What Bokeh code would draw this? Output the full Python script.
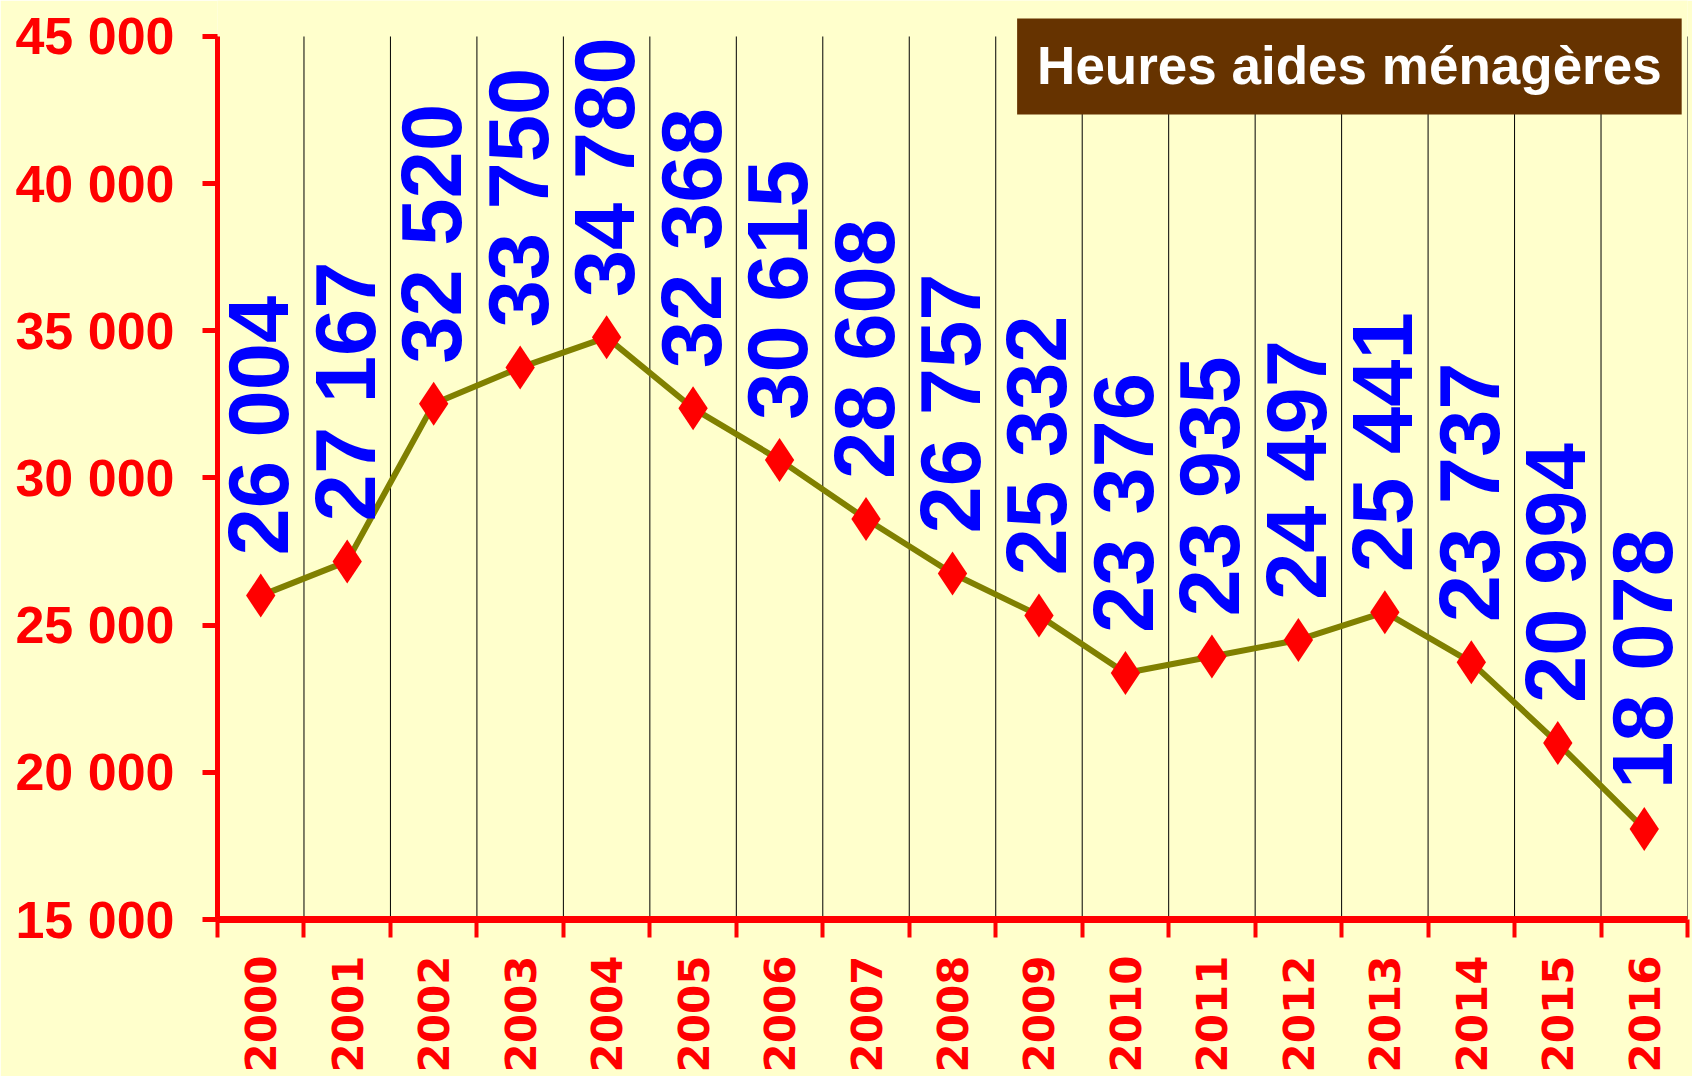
import math
from bokeh.plotting import figure
from bokeh.models import FixedTicker, Label, Range1d, ColumnDataSource
from bokeh.core.properties import value
from bokeh.embed import file_html
from bokeh.resources import INLINE

years = ["2000", "2001", "2002", "2003", "2004", "2005", "2006", "2007", "2008",
         "2009", "2010", "2011", "2012", "2013", "2014", "2015", "2016"]
hours = [26004, 27167, 32520, 33750, 34780, 32368, 30615, 28608, 26757,
         25332, 23376, 23935, 24497, 25441, 23737, 20994, 18078]
y_ticks = [15000, 20000, 25000, 30000, 35000, 40000, 45000]
y_tick_labels = ["15 000", "20 000", "25 000", "30 000", "35 000", "40 000", "45 000"]
title_text = "Heures aides ménagères"

BG = "#FFFFCC"
RED = "#FF0000"
BLUE = "#0000FF"

n = len(years)
centers = [i + 0.5 for i in range(n)]
bounds = list(range(n + 1))
labels = [f"{v:,}".replace(",", " ") for v in hours]
y_lo, y_hi = y_ticks[0], y_ticks[-1]

src = ColumnDataSource(dict(x=centers, y=hours, lab=labels))
grid_src = ColumnDataSource(dict(x=bounds, y0=[y_lo] * len(bounds),
                                 y1=[y_hi] * len(bounds)))

# frame extends a little above the top tick so the title box is not clipped
p = figure(width=1692, height=1076, output_backend="svg", toolbar_location=None,
           x_range=Range1d(0, n), y_range=Range1d(y_lo, y_hi + 1223),
           background_fill_color=BG, border_fill_color=BG,
           min_border_left=217, min_border_right=5, min_border_top=0,
           min_border_bottom=157)
p.outline_line_color = None

# x axis: labels at centres, tick marks at boundaries (minor ticks)
xa = p.xaxis[0]
xa.ticker = FixedTicker(ticks=centers, minor_ticks=bounds)
xa.major_label_overrides = {c: y for c, y in zip(centers, years)}
xa.major_label_orientation = math.pi / 2
xa.major_label_text_font = "DejaVu Sans"
xa.major_label_text_font_style = "bold"
xa.major_label_text_font_size = "42px"
xa.major_label_text_color = RED
xa.major_label_standoff = 18
xa.major_tick_out = 0
xa.major_tick_in = 0
xa.minor_tick_out = 18
xa.minor_tick_in = 0
xa.minor_tick_line_width = 4
xa.minor_tick_line_color = RED
xa.axis_line_color = RED
xa.axis_line_width = 7

# y axis
ya = p.yaxis[0]
ya.bounds = (y_lo, y_hi)
ya.ticker = FixedTicker(ticks=y_ticks, minor_ticks=[])
ya.major_label_overrides = {t: l for t, l in zip(y_ticks, y_tick_labels)}
ya.major_label_text_font = "Liberation Sans"
ya.major_label_text_font_style = "bold"
ya.major_label_text_font_size = "52px"
ya.major_label_text_color = RED
ya.major_label_standoff = 28
ya.major_tick_out = 15
ya.major_tick_in = 0
ya.major_tick_line_width = 5
ya.major_tick_line_color = RED
ya.minor_tick_line_color = None
ya.axis_line_color = RED
ya.axis_line_width = 5

# grids: vertical lines at category boundaries, up to the top tick
p.xgrid.grid_line_color = None
p.ygrid.grid_line_color = None
p.segment(x0="x", y0="y0", x1="x", y1="y1", source=grid_src,
          line_color="black", line_width=1)

# series
p.line("x", "y", source=src, line_color="#808000", line_width=6)
p.scatter("x", "y", source=src, marker="diamond", size=44,
          fill_color=RED, line_color=None)
p.text("x", "y", text="lab", source=src, angle=math.pi / 2,
       text_align="left", text_baseline="alphabetic",
       x_offset=-2, y_offset=-40,
       text_font=value("Liberation Sans"), text_font_style="bold",
       text_font_size="85px", text_color=BLUE)

# title box
title = Label(x=13.09, y=43981, text=title_text,
              text_align="center", text_baseline="middle",
              text_font="Liberation Sans", text_font_style="bold",
              text_font_size="53px", text_color="white",
              background_fill_color="#663300", background_fill_alpha=1.0,
              padding=(20, 20, 18, 19))
p.add_layout(title)

open("out.html", "w").write(file_html(p, INLINE))
